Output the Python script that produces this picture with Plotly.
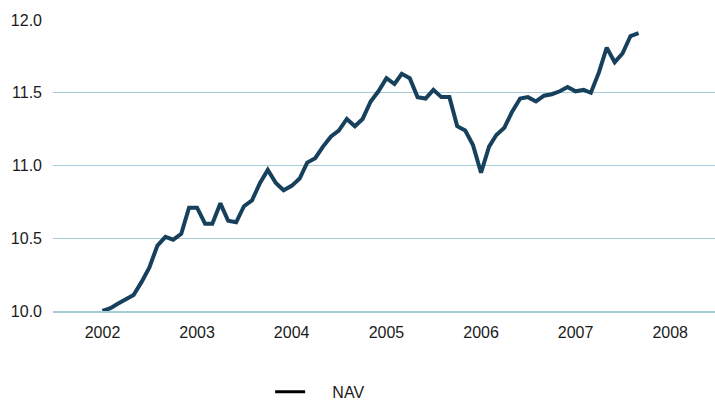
import plotly.graph_objects as go
import pandas as pd

months = pd.date_range("2002-01-01", periods=69, freq="MS")
nav = [10.00, 10.02, 10.05, 10.08, 10.11, 10.20, 10.30, 10.45, 10.51, 10.49,
       10.53, 10.71, 10.71, 10.60, 10.60, 10.74, 10.62, 10.61, 10.72, 10.76,
       10.88, 10.97, 10.88, 10.83, 10.86, 10.91, 11.02, 11.05, 11.13, 11.20,
       11.24, 11.32, 11.27, 11.32, 11.44, 11.51, 11.60, 11.56, 11.63, 11.60,
       11.47, 11.46, 11.52, 11.47, 11.47, 11.27, 11.24, 11.14, 10.95, 11.13,
       11.21, 11.26, 11.37, 11.46, 11.47, 11.44, 11.48, 11.49, 11.51, 11.54,
       11.51, 11.52, 11.50, 11.64, 11.81, 11.71, 11.77, 11.89, 11.91]
tick_vals = pd.date_range("2002-01-01", periods=7, freq="YS")
tick_text = [str(d.year) for d in tick_vals]
y_ticks = [10.0, 10.5, 11.0, 11.5, 12.0]
series_name = "NAV"

fig = go.Figure()
fig.add_trace(go.Scatter(x=months, y=nav, mode="lines", name=series_name,
                         line=dict(color="#17405c", width=4), showlegend=False))
fig.add_trace(go.Scatter(x=[None], y=[None], mode="lines",
                         name="\u00a0" * 5 + series_name,
                         line=dict(color="#000000", width=3)))

fig.update_layout(
    width=715, height=400,
    margin=dict(l=53, r=0, t=20, b=89, autoexpand=False),
    paper_bgcolor="white", plot_bgcolor="white",
    font=dict(family="Liberation Sans, Arial, sans-serif", size=16, color="#1a1a1a"),
    showlegend=True,
    legend=dict(orientation="h", x=0.328, xanchor="left", y=-0.278, yanchor="middle",
                font=dict(size=16, color="#1a1a1a")),
    xaxis=dict(range=[pd.Timestamp("2001-06-24"), pd.Timestamp("2008-06-22")],
               tickvals=tick_vals, ticktext=tick_text, showgrid=False,
               showline=True, linecolor="#a6ccd8", linewidth=2,
               zeroline=False, ticks="", ticklabelstandoff=6),
    yaxis=dict(range=[10, 12], tickvals=y_ticks, tickformat=".1f",
               showgrid=True, gridcolor="#a6ccd8", gridwidth=1,
               zeroline=False, showline=False, ticks="", ticklabelstandoff=10),
)
fig.write_html("out.html", config={"displayModeBar": False},
               post_script="document.body.style.margin='0';")
